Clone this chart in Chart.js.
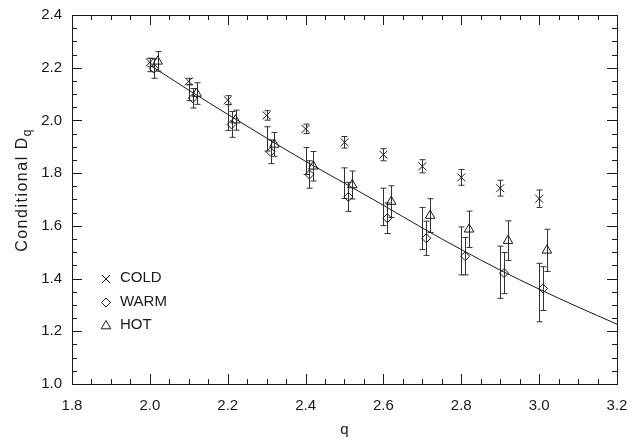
<!DOCTYPE html>
<html>
<head>
<meta charset="utf-8">
<script src="https://cdn.jsdelivr.net/npm/chart.js@4.4.1/dist/chart.umd.min.js"></script>
<style>
  html, body { margin: 0; padding: 0; background: #fff; }
  #wrap { width: 637px; height: 443px; position: relative; }
</style>
</head>
<body>
<div id="wrap"><canvas id="chart"></canvas></div>
<script>
// valeurs
const Q = [2.0, 2.1, 2.2, 2.3, 2.4, 2.5, 2.6, 2.7, 2.8, 2.9, 3.0];
const coldD = [2.220, 2.148, 2.077, 2.019, 1.968, 1.917, 1.870, 1.826, 1.784, 1.743, 1.703];
const coldErr = [0.016, 0.012, 0.017, 0.018, 0.018, 0.022, 0.023, 0.025, 0.030, 0.030, 0.033];
const warmD = [2.197, 2.084, 1.985, 1.881, 1.795, 1.710, 1.629, 1.553, 1.485, 1.421, 1.362];
const warmErr = [0.037, 0.037, 0.049, 0.045, 0.052, 0.055, 0.058, 0.065, 0.071, 0.078, 0.083];
const hotD = [2.224, 2.102, 2.001, 1.909, 1.826, 1.755, 1.692, 1.639, 1.587, 1.544, 1.507];
const hotErr = [0.037, 0.041, 0.038, 0.045, 0.056, 0.053, 0.060, 0.064, 0.069, 0.075, 0.080];
// barres supplémentaires tracées à la position de COLD
const extraD = [2.210, 2.105, 2.011, 1.930, 1.846, 1.762, 1.672, 1.590, 1.505, 1.424, 1.347];
const extraErr = [0.025, 0.030, 0.049, 0.046, 0.051, 0.058, 0.071, 0.080, 0.091, 0.099, 0.111];
// courbe d'ajustement
const fitQ = [2.0, 2.1, 2.2, 2.3, 2.4, 2.5, 2.6, 2.7, 2.8, 2.9, 3.0, 3.1, 3.2];
const fitD = [2.210, 2.115, 2.023, 1.933, 1.845, 1.762, 1.678, 1.592, 1.510, 1.432, 1.360, 1.292, 1.227];

const WARM_SHIFT = 0.01;
const HOT_SHIFT = 0.02;
const X_TICKS = [1.8, 2.0, 2.2, 2.4, 2.6, 2.8, 3.0, 3.2];
const Y_TICKS = [1.0, 1.2, 1.4, 1.6, 1.8, 2.0, 2.2, 2.4];
const LEGEND = ['COLD', 'WARM', 'HOT'];

const INK = '#1a1a1a';
const FAMILY = '"Liberation Sans", Arial, sans-serif';
const FONT = '15px ' + FAMILY;

const pts = (xs, ys, shift) => xs.map((v, i) => ({ x: v + shift, y: ys[i] }));

function drawMarker(ctx, kind, px, py) {
  ctx.beginPath();
  if (kind === 0) {
    ctx.moveTo(px - 4, py - 4); ctx.lineTo(px + 4, py + 4);
    ctx.moveTo(px + 4, py - 4); ctx.lineTo(px - 4, py + 4);
  } else if (kind === 1) {
    ctx.moveTo(px - 4.5, py); ctx.lineTo(px, py - 4.5);
    ctx.lineTo(px + 4.5, py); ctx.lineTo(px, py + 4.5); ctx.closePath();
  } else {
    ctx.moveTo(px, py - 5.5); ctx.lineTo(px + 4.8, py + 2.8);
    ctx.lineTo(px - 4.8, py + 2.8); ctx.closePath();
  }
  ctx.stroke();
}

const idlFrame = {
  id: 'idlFrame',
  beforeDatasetsDraw(chart) {
    const { ctx, scales: { x, y } } = chart;
    ctx.save();
    ctx.strokeStyle = '#333';
    ctx.lineWidth = 1;
    const bar = (qv, d, e) => {
      const px = Math.round(x.getPixelForValue(qv)) + 0.5;
      const t = y.getPixelForValue(d + e);
      const b = y.getPixelForValue(d - e);
      ctx.beginPath();
      ctx.moveTo(px, t); ctx.lineTo(px, b);
      ctx.moveTo(px - 3, t); ctx.lineTo(px + 3, t);
      ctx.moveTo(px - 3, b); ctx.lineTo(px + 3, b);
      ctx.stroke();
    };
    Q.forEach((qv, i) => {
      bar(qv, extraD[i], extraErr[i]);
      bar(qv, coldD[i], coldErr[i]);
      bar(qv + WARM_SHIFT, warmD[i], warmErr[i]);
      bar(qv + HOT_SHIFT, hotD[i], hotErr[i]);
    });
    ctx.restore();
  },
  afterDraw(chart) {
    const { ctx, chartArea: a, scales: { x, y } } = chart;
    ctx.save();
    ctx.strokeStyle = INK;
    ctx.lineWidth = 1;
    // cadre
    ctx.strokeRect(Math.round(a.left) + 0.5, Math.round(a.top) + 0.5,
      Math.round(a.right - a.left), Math.round(a.bottom - a.top));
    // graduations vers l'intérieur sur les quatre côtés
    ctx.beginPath();
    for (let k = 0; k <= 28; k++) {
      const v = 1.8 + k * 0.05;
      const px = Math.round(x.getPixelForValue(v)) + 0.5;
      const len = k % 4 === 0 ? 10 : 5;
      ctx.moveTo(px, a.bottom); ctx.lineTo(px, a.bottom - len);
      ctx.moveTo(px, a.top); ctx.lineTo(px, a.top + len);
    }
    for (let k = 0; k <= 28; k++) {
      const v = 1.0 + k * 0.05;
      const py = Math.round(y.getPixelForValue(v)) + 0.5;
      const len = k % 4 === 0 ? 10 : 5;
      ctx.moveTo(a.left, py); ctx.lineTo(a.left + len, py);
      ctx.moveTo(a.right, py); ctx.lineTo(a.right - len, py);
    }
    ctx.stroke();

    // titres des axes
    ctx.fillStyle = INK;
    ctx.font = FONT;
    ctx.textAlign = 'center';
    ctx.textBaseline = 'middle';
    ctx.fillText('q', (a.left + a.right) / 2, 430);

    ctx.save();
    ctx.translate(27, 190);
    ctx.rotate(-Math.PI / 2);
    ctx.textBaseline = 'alphabetic';
    ctx.textAlign = 'left';
    ctx.letterSpacing = '1.5px';
    const main = 'Conditional D';
    ctx.font = '16px ' + FAMILY;
    const w1 = ctx.measureText(main).width;
    ctx.font = '12px ' + FAMILY;
    const w2 = ctx.measureText('q').width;
    const x0 = -(w1 + w2) / 2;
    ctx.font = '16px ' + FAMILY;
    ctx.fillText(main, x0, 0);
    ctx.font = '12px ' + FAMILY;
    ctx.fillText('q', x0 + w1, 4);
    ctx.restore();

    // légende
    ctx.font = FONT;
    ctx.textAlign = 'left';
    ctx.textBaseline = 'middle';
    const rows = [278, 301.5, 325];
    LEGEND.forEach((name, i) => {
      drawMarker(ctx, i, 106, rows[i] + 1);
      ctx.fillText(name, 120, rows[i]);
    });
    ctx.restore();
  }
};

new Chart(document.getElementById('chart'), {
  type: 'scatter',
  data: {
    datasets: [
      {
        label: 'fit',
        data: pts(fitQ, fitD, 0),
        showLine: true,
        borderColor: INK,
        borderWidth: 1,
        pointRadius: 0,
        cubicInterpolationMode: 'monotone',
      },
      {
        label: LEGEND[0],
        data: pts(Q, coldD, 0),
        pointStyle: 'crossRot',
        pointRadius: 5.6,
        borderColor: INK,
        borderWidth: 1,
        backgroundColor: 'transparent',
      },
      {
        label: LEGEND[1],
        data: pts(Q, warmD, WARM_SHIFT),
        pointStyle: 'rectRot',
        pointRadius: 4.5,
        borderColor: INK,
        borderWidth: 1,
        backgroundColor: 'transparent',
      },
      {
        label: LEGEND[2],
        data: pts(Q, hotD, HOT_SHIFT),
        pointStyle: 'triangle',
        pointRadius: 5.5,
        borderColor: INK,
        borderWidth: 1,
        backgroundColor: 'transparent',
      },
    ],
  },
  options: {
    responsive: true,
    maintainAspectRatio: false,
    animation: false,
    devicePixelRatio: 1,
    layout: { padding: { top: 15, right: 20, left: 0, bottom: 0 } },
    plugins: { legend: { display: false }, tooltip: { enabled: false } },
    scales: {
      x: {
        type: 'linear',
        min: 1.8,
        max: 3.2,
        afterFit: (s) => { s.height = 59; s.paddingLeft = 0; s.paddingRight = 0; },
        afterBuildTicks: (s) => { s.ticks = X_TICKS.map((v) => ({ value: v })); },
        grid: { display: false, drawTicks: false },
        border: { display: false },
        ticks: {
          padding: 13,
          color: INK,
          font: { family: FAMILY, size: 15 },
          callback: (v) => v.toFixed(1),
          maxRotation: 0,
        },
      },
      y: {
        type: 'linear',
        min: 1.0,
        max: 2.4,
        afterFit: (s) => { s.width = 72; s.paddingTop = 0; s.paddingBottom = 0; },
        afterBuildTicks: (s) => { s.ticks = Y_TICKS.map((v) => ({ value: v })); },
        grid: { display: false, drawTicks: false },
        border: { display: false },
        ticks: {
          padding: 10,
          color: INK,
          font: { family: FAMILY, size: 15 },
          callback: (v) => v.toFixed(1),
        },
      },
    },
  },
  plugins: [idlFrame],
});
</script>
</body>
</html>
